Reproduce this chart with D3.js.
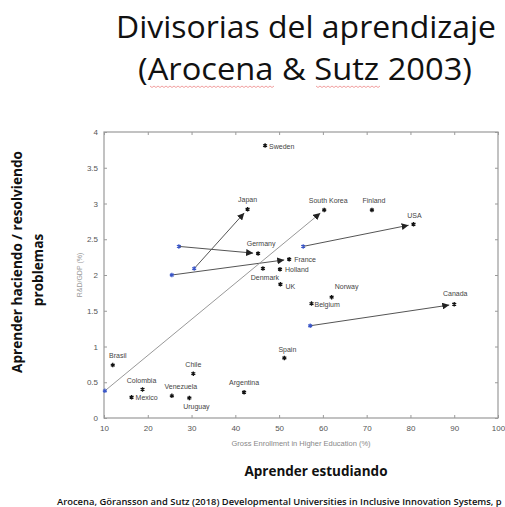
<!DOCTYPE html>
<html>
<head>
<meta charset="utf-8">
<script src="https://cdn.jsdelivr.net/npm/d3@7"></script>
<style>
  body { margin: 0; background: #fff; }
  svg { display: block; }
</style>
</head>
<body>
<div id="chart"></div>
<script>
// values
const countries = ["Sweden", "Japan", "Germany", "France", "Holland", "Denmark", "UK",
  "South Korea", "Finland", "USA", "Norway", "Belgium", "Canada", "Spain",
  "Brasil", "Chile", "Colombia", "Mexico", "Venezuela", "Uruguay", "Argentina"];
const enrollment = [46.8, 42.8, 45.2, 52.3, 50.2, 46.3, 50.3,
  60.3, 71.2, 80.7, 62.0, 57.4, 90.0, 51.2,
  12.0, 30.4, 18.8, 16.3, 25.5, 29.5, 42.0];
const rdGdp = [3.81, 2.92, 2.30, 2.22, 2.08, 2.09, 1.87,
  2.91, 2.91, 2.71, 1.69, 1.60, 1.59, 0.84,
  0.74, 0.62, 0.40, 0.29, 0.31, 0.28, 0.36];

// earlier positions (blue) with arrows towards the later one
const arrowTo = ["Japan", "Germany", "France", "USA", "Canada", "South Korea"];
const arrowFromX = [30.6, 27.1, 25.5, 55.5, 57.1, 10.2];
const arrowFromY = [2.09, 2.40, 2.00, 2.40, 1.29, 0.38];

const xTicks = [10, 20, 30, 40, 50, 60, 70, 80, 90, 100];
const yTicks = [0, 0.5, 1, 1.5, 2, 2.5, 3, 3.5, 4];

const width = 505, height = 507;

const svg = d3.select("#chart").append("svg")
  .attr("width", width)
  .attr("height", height);

// title
svg.append("text")
  .attr("x", 306).attr("y", 38)
  .attr("text-anchor", "middle")
  .attr("font-family", "Open Sans")
  .attr("font-size", 31)
  .attr("fill", "#111")
  .attr("textLength", 380)
  .attr("lengthAdjust", "spacingAndGlyphs")
  .text("Divisorias del aprendizaje");
svg.append("text")
  .attr("x", 305).attr("y", 80)
  .attr("text-anchor", "middle")
  .attr("font-family", "Open Sans")
  .attr("font-size", 31)
  .attr("fill", "#111")
  .attr("textLength", 334)
  .attr("lengthAdjust", "spacingAndGlyphs")
  .text("(Arocena & Sutz 2003)");

// spellcheck squiggles under Arocena and Sutz
function squiggle(x0, x1, y) {
  let d = `M${x0},${y}`;
  for (let x = x0, i = 0; x < x1; x += 2, i++) d += `L${x + 2},${y + (i % 2 ? 0 : 1.5)}`;
  return d;
}
svg.append("path").attr("d", squiggle(150, 274, 86))
  .attr("fill", "none").attr("stroke", "#e88").attr("stroke-width", 0.8);
svg.append("path").attr("d", squiggle(316, 380, 86))
  .attr("fill", "none").attr("stroke", "#e88").attr("stroke-width", 0.8);

const x = d3.scaleLinear().domain([10, 100]).range([104, 498]);
const y = d3.scaleLinear().domain([0, 4]).range([418, 132]);

const axisColor = "#9a9a9a";

// box
svg.append("rect")
  .attr("x", x(10)).attr("y", y(4))
  .attr("width", x(100) - x(10)).attr("height", y(0) - y(4))
  .attr("fill", "none").attr("stroke", axisColor).attr("stroke-width", 1.2);

function styleAxis(g) {
  g.select(".domain").remove();
  g.selectAll(".tick line").attr("stroke", axisColor);
  g.selectAll(".tick text").attr("fill", "#555")
    .attr("font-family", "Liberation Sans, Arial").attr("font-size", 8);
}

svg.append("g").attr("transform", `translate(0,${y(0)})`)
  .call(d3.axisBottom(x).tickValues(xTicks).tickSize(-3).tickPadding(7).tickFormat(d3.format("d")))
  .call(styleAxis);
svg.append("g").attr("transform", `translate(0,${y(4)})`)
  .call(d3.axisTop(x).tickValues(xTicks).tickSize(-3).tickFormat(""))
  .call(styleAxis);
svg.append("g").attr("transform", `translate(${x(10)},0)`)
  .call(d3.axisLeft(y).tickValues(yTicks).tickSize(-3).tickPadding(6).tickFormat(d => d))
  .call(styleAxis);
svg.append("g").attr("transform", `translate(${x(100)},0)`)
  .call(d3.axisRight(y).tickValues(yTicks).tickSize(-3).tickFormat(""))
  .call(styleAxis);

// axis titles
svg.append("text")
  .attr("x", x(55)).attr("y", 446)
  .attr("text-anchor", "middle")
  .attr("font-family", "Liberation Sans, Arial").attr("font-size", 7.5)
  .attr("fill", "#888")
  .text("Gross Enrollment in Higher Education (%)");
svg.append("text")
  .attr("transform", `translate(82,${y(2)}) rotate(-90)`)
  .attr("text-anchor", "middle")
  .attr("font-family", "Liberation Sans, Arial").attr("font-size", 7)
  .attr("fill", "#999")
  .text("R&D/GDP (%)");

// arrows
svg.append("defs").append("marker")
  .attr("id", "head")
  .attr("viewBox", "0 0 10 10")
  .attr("refX", 10).attr("refY", 5)
  .attr("markerWidth", 7).attr("markerHeight", 7)
  .attr("markerUnits", "userSpaceOnUse")
  .attr("orient", "auto")
  .append("path").attr("d", "M0,0L10,5L0,10Z").attr("fill", "#222");

const byName = new Map(countries.map((c, i) => [c, i]));
const arrows = arrowTo.map((c, i) => {
  const j = byName.get(c);
  const x0 = x(arrowFromX[i]), y0 = y(arrowFromY[i]);
  const x1 = x(enrollment[j]), y1 = y(rdGdp[j]);
  const len = Math.hypot(x1 - x0, y1 - y0);
  const k = (len - 5) / len; // stop just short of the point
  return { x0, y0, x1: x0 + (x1 - x0) * k, y1: y0 + (y1 - y0) * k, c };
});

svg.append("g").selectAll("line").data(arrows).join("line")
  .attr("x1", d => d.x0).attr("y1", d => d.y0)
  .attr("x2", d => d.x1).attr("y2", d => d.y1)
  .attr("stroke", d => d.c === "South Korea" ? "#999" : "#555")
  .attr("stroke-width", 1)
  .attr("marker-end", "url(#head)");

// earlier positions
svg.append("g").selectAll("path").data(arrowFromX).join("path")
  .attr("transform", (d, i) => `translate(${x(d)},${y(arrowFromY[i])})`)
  .attr("d", d3.symbol(d3.symbolAsterisk, 14))
  .attr("stroke", "#3a56c8").attr("stroke-width", 1.2).attr("fill", "none");

// countries
svg.append("g").selectAll("path").data(countries).join("path")
  .attr("transform", (d, i) => `translate(${x(enrollment[i])},${y(rdGdp[i])})`)
  .attr("d", d3.symbol(d3.symbolAsterisk, 14))
  .attr("stroke", "#111").attr("stroke-width", 1.3).attr("fill", "none");

// label placement: [dx, dy, anchor]
const place = {
  "Sweden": [4, 3, "start"], "Japan": [0, -7, "middle"], "Germany": [3, -8, "middle"],
  "France": [5, 3, "start"], "Holland": [5, 3, "start"], "Denmark": [2, 11, "middle"],
  "UK": [5, 5, "start"], "South Korea": [4, -7, "middle"], "Finland": [2, -7, "middle"],
  "USA": [1, -6, "middle"], "Norway": [15, -8, "middle"], "Belgium": [3, 3, "start"],
  "Canada": [1, -8, "middle"], "Spain": [3, -6, "middle"], "Brasil": [5, -7, "middle"],
  "Chile": [0, -7, "middle"], "Colombia": [-1, -6, "middle"], "Mexico": [4, 3, "start"],
  "Venezuela": [9, -7, "middle"], "Uruguay": [7, 11, "middle"], "Argentina": [0, -7, "middle"]
};

svg.append("g").selectAll("text").data(countries).join("text")
  .attr("x", (d, i) => x(enrollment[i]) + place[d][0])
  .attr("y", (d, i) => y(rdGdp[i]) + place[d][1])
  .attr("text-anchor", d => place[d][2])
  .attr("font-family", "Liberation Sans, Arial").attr("font-size", 7)
  .attr("fill", "#444")
  .text(d => d);

// slide captions
svg.append("text")
  .attr("transform", "translate(22,262) rotate(-90)")
  .attr("text-anchor", "middle")
  .attr("font-family", "Open Sans").attr("font-weight", "bold").attr("font-size", 13.6)
  .attr("fill", "#111")
  .text("Aprender haciendo / resolviendo");
svg.append("text")
  .attr("transform", "translate(43,270) rotate(-90)")
  .attr("text-anchor", "middle")
  .attr("font-family", "Open Sans").attr("font-weight", "bold").attr("font-size", 13.6)
  .attr("fill", "#111")
  .text("problemas");
svg.append("text")
  .attr("x", 316).attr("y", 476)
  .attr("text-anchor", "middle")
  .attr("font-family", "Open Sans").attr("font-weight", "bold").attr("font-size", 13.5)
  .attr("fill", "#111")
  .text("Aprender estudiando");
svg.append("text")
  .attr("x", 57).attr("y", 505)
  .attr("font-family", "Open Sans").attr("font-weight", 600).attr("font-size", 9.4)
  .attr("fill", "#111")
  .text("Arocena, Göransson and Sutz (2018) Developmental Universities in Inclusive Innovation Systems, p");
</script>
</body>
</html>
